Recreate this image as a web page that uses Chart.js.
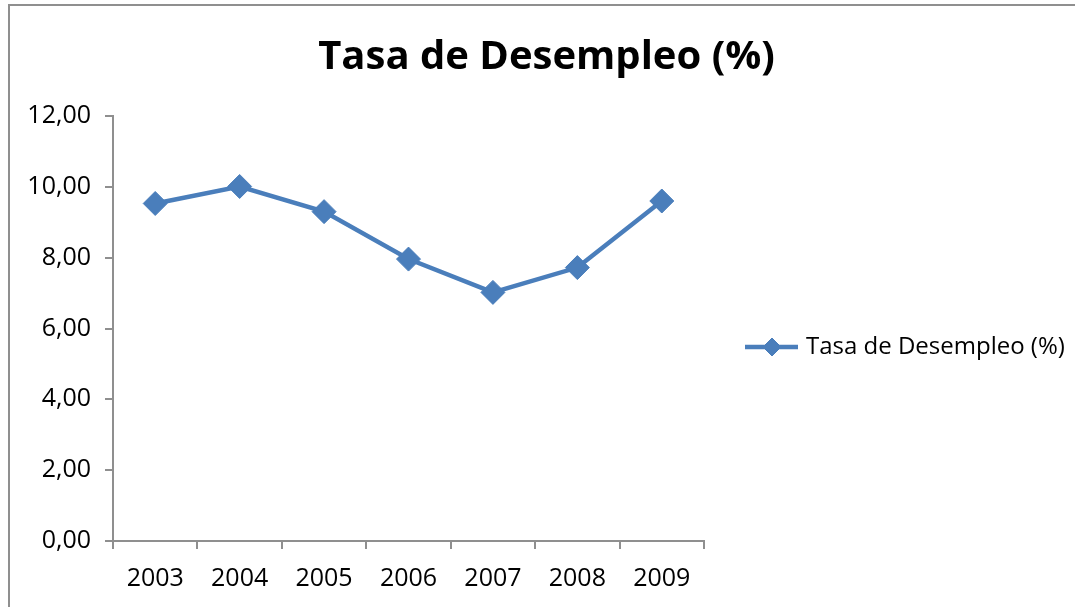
<!DOCTYPE html>
<html>
<head>
<meta charset="utf-8">
<title>Tasa de Desempleo (%)</title>
<script src="https://cdn.jsdelivr.net/npm/chart.js@4.4.1/dist/chart.umd.min.js"></script>
<style>
  html, body { margin: 0; padding: 0; background: #fff; overflow: hidden; }
  #frame { position: absolute; left: 8px; top: 4px; width: 1200px; height: 700px; border: 2px solid #8f8f8f; }
  #myChart { position: absolute; left: 0; top: 0; }
</style>
</head>
<body>
<div id="frame"></div>
<canvas id="myChart" width="1075" height="607"></canvas>
<script>
const years = ['2003','2004','2005','2006','2007','2008','2009'];
const desempleo = [9.53, 10.01, 9.30, 7.96, 7.02, 7.72, 9.60];
const serieLabel = 'Tasa de Desempleo (%)';
const yTicks = [0, 2, 4, 6, 8, 10, 12];

const axisColor = '#8f8f8f';
const lineColor = '#4a7ebb';

// legend drawn like the excel one: line with a diamond in the middle
const sideLegend = {
    id: 'sideLegend',
    afterDraw(chart) {
        const ctx = chart.ctx;
        const area = chart.chartArea;
        const ds = chart.data.datasets[0];
        const x0 = area.right + 41;
        const y = 347;
        ctx.save();
        ctx.strokeStyle = ds.borderColor;
        ctx.lineWidth = 4.5;
        ctx.beginPath();
        ctx.moveTo(x0, y);
        ctx.lineTo(x0 + 53, y);
        ctx.stroke();
        ctx.fillStyle = ds.pointBackgroundColor;
        ctx.lineWidth = 1;
        Chart.helpers.drawPoint(ctx, { pointStyle: ds.pointStyle, radius: 9, rotation: 0, borderWidth: 1 }, x0 + 27, y);
        ctx.fillStyle = '#000';
        ctx.font = '24px "Open Sans"';
        ctx.textBaseline = 'middle';
        ctx.fillText(ds.label, x0 + 61, y);
        ctx.restore();
    }
};

const config = {
    type: 'line',
    data: {
        labels: years,
        datasets: [{
            label: serieLabel,
            data: desempleo,
            borderColor: lineColor,
            backgroundColor: lineColor,
            borderWidth: 4.5,
            tension: 0,
            pointStyle: 'rectRot',
            pointRadius: 12,
            pointBackgroundColor: lineColor,
            pointBorderColor: lineColor,
            pointBorderWidth: 1
        }]
    },
    options: {
        responsive: false,
        animation: false,
        devicePixelRatio: 1,
        layout: { padding: { left: 18, right: 0, top: 0, bottom: 0 } },
        plugins: {
            legend: { display: false },
            tooltip: { enabled: false },
            title: {
                display: true,
                text: 'Tasa de Desempleo (%)',
                color: '#000',
                font: { family: 'Open Sans', size: 40, weight: 'bold' },
                padding: { top: 34, bottom: 34 }
            }
        },
        scales: {
            x: {
                offset: true,
                grid: { offset: true, drawOnChartArea: false, drawTicks: true, tickLength: 8, color: axisColor, lineWidth: 2 },
                border: { display: true, color: axisColor, width: 2 },
                ticks: { color: '#000', padding: 15, font: { family: 'Open Sans', size: 25 }, maxRotation: 0 },
                afterFit(scale) { scale.height = 66; }
            },
            y: {
                min: 0,
                max: 12,
                afterBuildTicks(scale) { scale.ticks = yTicks.map(v => ({ value: v })); },
                grid: { drawOnChartArea: false, drawTicks: true, tickLength: 8, color: axisColor, lineWidth: 2 },
                border: { display: true, color: axisColor, width: 2 },
                ticks: {
                    color: '#000',
                    padding: 14,
                    font: { family: 'Open Sans', size: 25 },
                    callback: v => v.toFixed(2).replace('.', ',')
                },
                afterFit(scale) { scale.width = 95; }
            },
            // empty right-hand box that keeps room for the legend
            side: {
                position: 'right',
                display: true,
                grid: { display: false },
                border: { display: false },
                ticks: { display: false },
                afterFit(scale) { scale.width = 371; }
            }
        }
    },
    plugins: [sideLegend]
};

const canvas = document.getElementById('myChart');
const myChart = new Chart(canvas, config);
</script>
</body>
</html>
